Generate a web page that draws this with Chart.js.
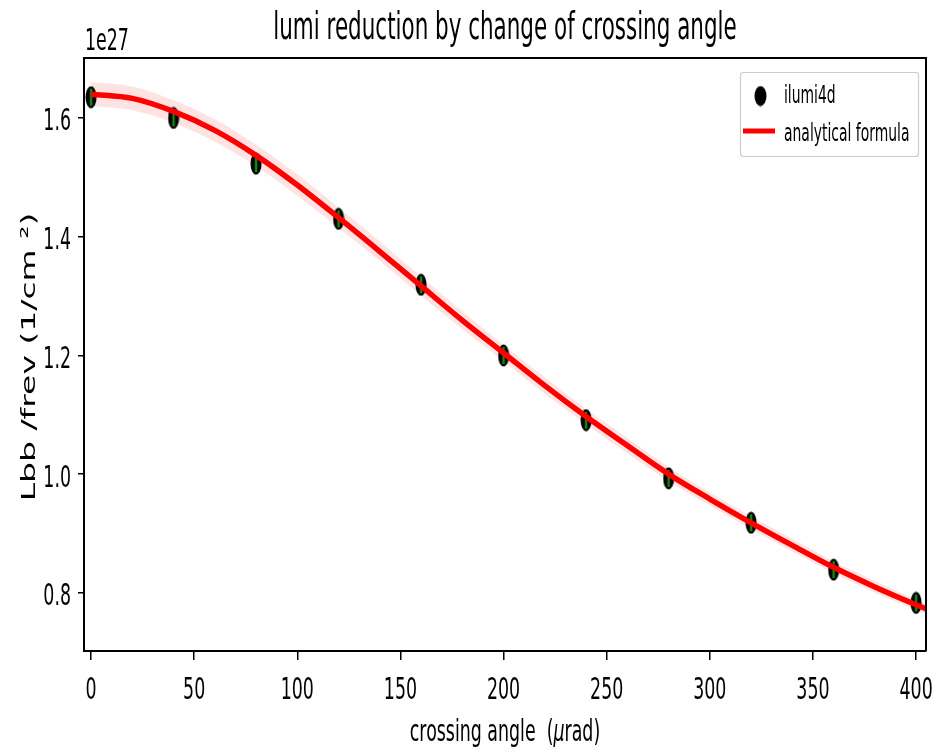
<!DOCTYPE html>
<html>
<head>
<meta charset="utf-8">
<script src="https://cdn.jsdelivr.net/npm/chart.js@4.4.1/dist/chart.umd.min.js"></script>
<style>
  body { margin: 0; background: #fff; }
  #lumiChart { display: block; }
</style>
</head>
<body>
<canvas id="lumiChart" width="939" height="752"></canvas>
<script>
// ilumi4d results, one point per crossing angle (urad), in units of 1e27
let angles = [0, 40, 80, 120, 160, 200, 240, 280, 320, 360, 400];
let lumi4d = [1.635, 1.600, 1.523, 1.430, 1.319, 1.200, 1.091, 0.993, 0.918, 0.839, 0.783];

// analytical formula curve and its shaded band
let formulaAngles = [0, 20, 40, 60, 80, 100, 120, 140, 160, 180, 200, 220, 240, 260, 280, 300, 320, 340, 360, 380, 400, 405];
let formulaLumi = [1.640, 1.633, 1.611, 1.579, 1.537, 1.487, 1.432, 1.375, 1.317, 1.259, 1.204, 1.149, 1.097, 1.048, 1.000, 0.958, 0.918, 0.880, 0.843, 0.810, 0.780, 0.773];
let formulaHi = [1.660, 1.653, 1.630, 1.598, 1.555, 1.505, 1.449, 1.392, 1.333, 1.274, 1.218, 1.163, 1.110, 1.061, 1.012, 0.969, 0.929, 0.891, 0.853, 0.820, 0.789, 0.782];
let formulaLo = [1.620, 1.613, 1.592, 1.560, 1.519, 1.469, 1.415, 1.359, 1.301, 1.244, 1.190, 1.135, 1.084, 1.035, 0.988, 0.947, 0.907, 0.869, 0.833, 0.800, 0.771, 0.764];

let xTicks = [0, 50, 100, 150, 200, 250, 300, 350, 400];
let yTicks = [0.8, 1.0, 1.2, 1.4, 1.6];
let yTickLabels = ["0.8", "1.0", "1.2", "1.4", "1.6"];

const FONT = '"DejaVu Sans", sans-serif';
const SX = 0.58; // narrow text look

function xy(xs, ys){
    let out = [];
    for(let i = 0; i < xs.length; i++){
        out.push({x: xs[i], y: ys[i]});
    }
    return out;
}

function makeMarker(w, h, bar){
    let c = document.createElement("canvas");
    c.width = w; c.height = h;
    let g = c.getContext("2d");
    g.fillStyle = "#000";
    g.beginPath();
    g.ellipse(w/2, h/2, w/2 - 0.5, h/2 - 0.5, 0, 0, 2*Math.PI);
    g.fill();
    if(bar){
        g.strokeStyle = "#108a10";
        g.lineWidth = 2.5;
        g.beginPath();
        g.moveTo(w/2, 3);
        g.lineTo(w/2, h - 3);
        g.stroke();
    }
    return c;
}

function narrowText(ctx, str, x, y, size, align, style){
    ctx.save();
    ctx.font = (style ? style + " " : "") + size + "px " + FONT;
    ctx.translate(x, y);
    ctx.scale(SX, 1);
    ctx.textAlign = align;
    ctx.textBaseline = "alphabetic";
    ctx.fillStyle = "#000";
    ctx.fillText(str, 0, 0);
    ctx.restore();
}

const decorations = {
    id: "decorations",
    afterDraw(chart){
        let ctx = chart.ctx;
        let a = chart.chartArea;
        let xs = chart.scales.x, ys = chart.scales.y;

        // top and right spines
        ctx.save();
        ctx.strokeStyle = "#000";
        ctx.lineWidth = 2;
        ctx.beginPath();
        ctx.moveTo(a.left, a.top);
        ctx.lineTo(a.right, a.top);
        ctx.lineTo(a.right, a.bottom);
        ctx.stroke();
        ctx.restore();

        // tick labels
        for(let i = 0; i < xTicks.length; i++){
            narrowText(ctx, String(xTicks[i]), xs.getPixelForValue(xTicks[i]), 699, 30, "center");
        }
        for(let i = 0; i < yTicks.length; i++){
            narrowText(ctx, yTickLabels[i], a.left - 13, ys.getPixelForValue(yTicks[i]) + 12.5, 30, "right");
        }
        narrowText(ctx, "1e27", a.left + 1, 50, 30, "left");

        // title
        let cx = (a.left + a.right) / 2;
        narrowText(ctx, "lumi reduction by change of crossing angle", cx, 39, 37, "center");

        // x label with italic mu
        ctx.save();
        ctx.font = "30px " + FONT;
        let p1 = "crossing angle  (", p3 = "rad)";
        let w1 = ctx.measureText(p1).width, w3 = ctx.measureText(p3).width;
        ctx.font = "italic 30px " + FONT;
        let w2 = ctx.measureText("\u03bc").width;
        ctx.restore();
        let total = (w1 + w2 + w3) * SX;
        let x0 = cx - total / 2;
        narrowText(ctx, p1, x0, 741, 30, "left");
        narrowText(ctx, "\u03bc", x0 + w1 * SX, 741, 30, "left", "italic");
        narrowText(ctx, p3, x0 + (w1 + w2) * SX, 741, 30, "left");

        // y label
        ctx.save();
        ctx.translate(30, 357);
        ctx.scale(0.6, 1);
        ctx.rotate(-Math.PI / 2);
        ctx.font = "33px " + FONT;
        ctx.textAlign = "center";
        ctx.textBaseline = "middle";
        ctx.fillStyle = "#000";
        ctx.fillText("Lbb /frev (1/cm \u00b2)", 0, 0);
        ctx.restore();

        // legend
        ctx.save();
        ctx.fillStyle = "rgba(255,255,255,0.8)";
        ctx.strokeStyle = "#cccccc";
        ctx.lineWidth = 1.2;
        ctx.beginPath();
        ctx.roundRect(740.5, 72.5, 178, 84, 3);
        ctx.fill();
        ctx.stroke();
        ctx.drawImage(legendMarker, 760.5 - legendMarker.width/2, 96 - legendMarker.height/2);
        ctx.strokeStyle = "#ff0000";
        ctx.lineWidth = 5;
        ctx.beginPath();
        ctx.moveTo(743, 131);
        ctx.lineTo(775, 131);
        ctx.stroke();
        ctx.restore();
        narrowText(ctx, "ilumi4d", 784, 103, 24, "left");
        narrowText(ctx, "analytical formula", 784, 141, 24, "left");
    }
};

let pointMarker = makeMarker(12, 23, true);
let legendMarker = makeMarker(13, 21, false);

let ctx = document.getElementById("lumiChart").getContext("2d");
let lumiChart = new Chart(ctx, {
    type: "scatter",
    data: {
        datasets: [
            {
                label: "band upper",
                type: "line",
                data: xy(formulaAngles, formulaHi),
                borderWidth: 0,
                borderColor: "rgba(0,0,0,0)",
                pointRadius: 0,
                cubicInterpolationMode: "monotone",
                fill: false,
                order: 3
            },
            {
                label: "band lower",
                type: "line",
                data: xy(formulaAngles, formulaLo),
                borderWidth: 0,
                borderColor: "rgba(0,0,0,0)",
                backgroundColor: "rgba(255,0,0,0.11)",
                pointRadius: 0,
                cubicInterpolationMode: "monotone",
                fill: "-1",
                order: 3
            },
            {
                label: "analytical formula",
                type: "line",
                data: xy(formulaAngles, formulaLumi),
                borderColor: "#ff0000",
                borderWidth: 5.5,
                pointRadius: 0,
                cubicInterpolationMode: "monotone",
                fill: false,
                order: 1
            },
            {
                label: "ilumi4d",
                data: xy(angles, lumi4d),
                pointStyle: pointMarker,
                pointRadius: 8,
                order: 2
            }
        ]
    },
    options: {
        responsive: false,
        devicePixelRatio: 1,
        animation: false,
        layout: { padding: { left: 78, top: 58, right: 13, bottom: 92 } },
        plugins: {
            legend: { display: false },
            tooltip: { enabled: false },
            title: { display: false }
        },
        scales: {
            x: {
                type: "linear",
                min: -3.4,
                max: 404.8,
                afterBuildTicks: function(s){ s.ticks = xTicks.map(v => ({value: v})); },
                ticks: { display: false },
                grid: { drawOnChartArea: false, drawTicks: true, tickLength: 9, color: "#000", lineWidth: 1.5 },
                border: { display: true, color: "#000", width: 2 }
            },
            y: {
                type: "linear",
                min: 0.702,
                max: 1.701,
                afterBuildTicks: function(s){ s.ticks = yTicks.map(v => ({value: v})); },
                ticks: { display: false },
                grid: { drawOnChartArea: false, drawTicks: true, tickLength: 6, color: "#000", lineWidth: 1.5 },
                border: { display: true, color: "#000", width: 2 }
            }
        }
    },
    plugins: [decorations]
});
</script>
</body>
</html>
